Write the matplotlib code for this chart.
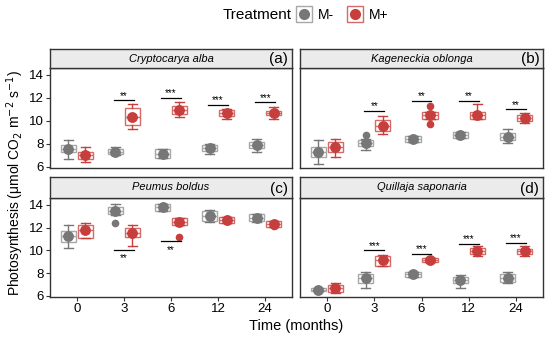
import matplotlib
matplotlib.use("Agg")
import matplotlib.pyplot as plt
from matplotlib.lines import Line2D
from matplotlib.legend_handler import HandlerTuple
import numpy as np

plt.rcParams['font.family'] = ['Liberation Sans', 'DejaVu Sans']

months = ["0", "3", "6", "12", "24"]
species = ["Cryptocarya alba", "Kageneckia oblonga", "Peumus boldus", "Quillaja saponaria"]
panel_tags = ["(a)", "(b)", "(c)", "(d)"]

# M- stats per panel: mean, q1, q3, low whisker, high whisker, outliers
a_minus_mean = [7.57, 7.33, 7.13, 7.63, 7.90]
a_minus_q1 = [7.33, 7.13, 6.73, 7.36, 7.63]
a_minus_q3 = [7.90, 7.57, 7.54, 7.90, 8.20]
a_minus_lo = [6.70, 7.00, 6.73, 7.16, 7.30]
a_minus_hi = [8.35, 7.70, 7.54, 8.03, 8.46]
a_minus_out = [[], [], [], [], []]
a_plus_mean = [7.00, 10.37, 10.96, 10.70, 10.70]
a_plus_q1 = [6.70, 9.60, 10.60, 10.40, 10.50]
a_plus_q3 = [7.33, 11.16, 11.30, 10.97, 10.90]
a_plus_lo = [6.43, 9.33, 10.30, 10.20, 10.20]
a_plus_hi = [7.77, 11.48, 11.65, 11.07, 11.25]
a_plus_out = [[], [], [], [], []]

b_minus_mean = [7.33, 8.06, 8.43, 8.78, 8.58]
b_minus_q1 = [6.85, 7.80, 8.20, 8.55, 8.30]
b_minus_q3 = [7.77, 8.30, 8.70, 9.00, 8.95]
b_minus_lo = [6.23, 7.48, 8.20, 8.55, 8.10]
b_minus_hi = [8.35, 8.45, 8.70, 9.00, 9.28]
b_minus_out = [[], [8.75], [], [], []]
b_plus_mean = [7.77, 9.57, 10.49, 10.55, 10.26]
b_plus_q1 = [7.28, 9.13, 10.17, 10.15, 10.00]
b_plus_q3 = [8.20, 10.10, 10.78, 10.80, 10.50]
b_plus_lo = [6.85, 8.84, 10.17, 10.15, 9.85]
b_plus_hi = [8.43, 10.46, 10.78, 11.48, 10.67]
b_plus_out = [[], [], [11.30, 9.74], [], []]

c_minus_mean = [11.27, 13.48, 13.83, 13.05, 12.85]
c_minus_q1 = [10.75, 13.20, 13.50, 12.60, 12.60]
c_minus_q3 = [11.67, 13.77, 14.05, 13.45, 13.20]
c_minus_lo = [10.23, 13.10, 13.50, 12.53, 12.47]
c_minus_hi = [12.25, 14.10, 14.05, 13.54, 13.20]
c_minus_out = [[], [12.42], [], [], []]
c_plus_mean = [11.76, 11.53, 12.47, 12.70, 12.33]
c_plus_q1 = [11.10, 11.20, 12.25, 12.40, 12.04]
c_plus_q3 = [12.25, 11.96, 12.82, 12.97, 12.60]
c_plus_lo = [11.10, 10.38, 12.25, 12.40, 12.04]
c_plus_hi = [12.40, 12.25, 12.82, 12.97, 12.60]
c_plus_out = [[], [], [11.20], [], [12.10]]

d_minus_mean = [6.53, 7.56, 7.91, 7.36, 7.60]
d_minus_q1 = [6.40, 7.16, 7.67, 7.10, 7.25]
d_minus_q3 = [6.67, 7.94, 8.06, 7.70, 7.94]
d_minus_lo = [6.40, 6.70, 7.67, 6.73, 7.16]
d_minus_hi = [6.67, 8.08, 8.06, 7.85, 8.10]
d_minus_out = [[], [], [], [], []]
d_plus_mean = [6.65, 9.11, 9.15, 9.95, 9.95]
d_plus_q1 = [6.35, 8.66, 8.94, 9.67, 9.70]
d_plus_q3 = [6.95, 9.46, 9.36, 10.20, 10.10]
d_plus_lo = [6.24, 8.60, 8.94, 9.54, 9.52]
d_plus_hi = [7.16, 9.60, 9.36, 10.40, 10.38]
d_plus_out = [[], [], [], [], []]

# significance: label and line height per time point
a_sig = ["", "**", "***", "***", "***"]
a_sig_y = [0, 11.8, 12.0, 11.4, 11.6]
b_sig = ["", "**", "**", "**", "**"]
b_sig_y = [0, 10.87, 11.77, 11.77, 11.0]
c_sig = ["", "**", "**", "", ""]
c_sig_y = [0, 10.03, 10.8, 0, 0]
d_sig = ["", "***", "***", "***", "***"]
d_sig_y = [0, 10.0, 9.7, 10.6, 10.66]

panels = [
    (a_minus_mean, a_minus_q1, a_minus_q3, a_minus_lo, a_minus_hi, a_minus_out,
     a_plus_mean, a_plus_q1, a_plus_q3, a_plus_lo, a_plus_hi, a_plus_out, a_sig, a_sig_y, False),
    (b_minus_mean, b_minus_q1, b_minus_q3, b_minus_lo, b_minus_hi, b_minus_out,
     b_plus_mean, b_plus_q1, b_plus_q3, b_plus_lo, b_plus_hi, b_plus_out, b_sig, b_sig_y, False),
    (c_minus_mean, c_minus_q1, c_minus_q3, c_minus_lo, c_minus_hi, c_minus_out,
     c_plus_mean, c_plus_q1, c_plus_q3, c_plus_lo, c_plus_hi, c_plus_out, c_sig, c_sig_y, True),
    (d_minus_mean, d_minus_q1, d_minus_q3, d_minus_lo, d_minus_hi, d_minus_out,
     d_plus_mean, d_plus_q1, d_plus_q3, d_plus_lo, d_plus_hi, d_plus_out, d_sig, d_sig_y, False),
]

gray_pt = "#777777"
gray_box = "#A8A8A8"
red_pt = "#C63F3D"
red_box = "#D66A68"

fig = plt.figure(figsize=(5.5, 3.44), dpi=100)

W, H = 550, 344
def fr(x0, y0, x1, y1):
    return [x0 / W, 1 - y1 / H, (x1 - x0) / W, (y1 - y0) / H]

plot_boxes = [fr(50, 68, 292, 168), fr(300, 68, 543, 168),
              fr(50, 198, 292, 297), fr(300, 198, 543, 297)]
strip_boxes = [fr(50, 49, 292, 68), fr(300, 49, 543, 68),
               fr(50, 177, 292, 198), fr(300, 177, 543, 198)]

pos = np.arange(1, len(months) + 1)
dodge = 0.18


def draw_group(ax, x, mean, q1, q3, lo, hi, out, pt_col, box_col):
    stats = []
    for i in range(len(x)):
        stats.append(dict(med=mean[i], q1=q1[i], q3=q3[i], whislo=lo[i],
                          whishi=hi[i], fliers=out[i]))
    ax.bxp(stats, positions=x, widths=0.32, showfliers=True, patch_artist=True,
           boxprops=dict(facecolor="white", edgecolor=box_col, linewidth=1.0),
           medianprops=dict(color=box_col, linewidth=1.0),
           whiskerprops=dict(color=pt_col, linewidth=1.0),
           capprops=dict(color=pt_col, linewidth=1.0),
           capwidths=0.2,
           flierprops=dict(marker="o", markerfacecolor=pt_col, markeredgecolor=pt_col,
                           markersize=4.5),
           manage_ticks=False)
    ax.plot(x, mean, "o", color=pt_col, markersize=6.8, zorder=5, linestyle="none")


for k, p in enumerate(panels):
    (mm, mq1, mq3, mlo, mhi, mout, pm, pq1, pq3, plo, phi, pout, sig, sig_y, below) = p
    ax = fig.add_axes(plot_boxes[k])
    draw_group(ax, pos - dodge, mm, mq1, mq3, mlo, mhi, mout, gray_pt, gray_box)
    draw_group(ax, pos + dodge, pm, pq1, pq3, plo, phi, pout, red_pt, red_box)
    for i, s in enumerate(sig):
        if not s:
            continue
        ax.plot([pos[i] - 0.21, pos[i] + 0.21], [sig_y[i], sig_y[i]], color="black", lw=0.9)
        if below:
            ax.text(pos[i], sig_y[i] - 0.3, s, ha="center", va="top", fontsize=7)
        else:
            ax.text(pos[i], sig_y[i] - 0.05, s, ha="center", va="bottom", fontsize=7)
    ax.set_xlim(0.43, 5.57)
    ax.set_ylim(5.9, 14.6)
    ax.set_yticks([6, 8, 10, 12, 14])
    ax.set_xticks(pos)
    if k >= 2:
        ax.set_xticklabels(months)
    else:
        ax.set_xticklabels([])
    if k in (1, 3):
        ax.set_yticklabels([])
    ax.tick_params(labelsize=9.5, colors="#333333", labelcolor="black", length=3, width=0.8, pad=1.5)
    if k in (1, 3):
        ax.tick_params(axis="y", length=0)
    if k < 2:
        ax.tick_params(axis="x", length=0)
    for sp in ax.spines.values():
        sp.set_color("#333333")
        sp.set_linewidth(1.0)

    sax = fig.add_axes(strip_boxes[k])
    sax.set_facecolor("#EBEBEB")
    sax.set_xticks([])
    sax.set_yticks([])
    for sp in sax.spines.values():
        sp.set_color("#333333")
        sp.set_linewidth(1.0)
    sax.text(0.5, 0.5, species[k], style="italic", ha="center", va="center",
             fontsize=8, transform=sax.transAxes)
    sax.text(0.985, 0.45, panel_tags[k], ha="right", va="center", fontsize=11,
             transform=sax.transAxes)

fig.text(15 / W, 1 - 183 / H, "Photosynthesis (μmol CO$_2$ m$^{-2}$ s$^{-1}$)",
         rotation=90, ha="center", va="center", fontsize=10)
fig.text(296 / W, 1 - 326 / H, "Time (months)", ha="center", va="center", fontsize=10.5)

# legend: title as text, keys beside it
fig.text(292 / W, 1 - 15 / H, "Treatment", ha="right", va="center", fontsize=11)
h_minus = (Line2D([], [], marker="s", markersize=12, markerfacecolor="white",
                  markeredgecolor=gray_box, linestyle="none"),
           Line2D([], [], marker="o", markersize=7, color=gray_pt, linestyle="none"))
h_plus = (Line2D([], [], marker="s", markersize=12, markerfacecolor="white",
                 markeredgecolor=red_box, linestyle="none"),
          Line2D([], [], marker="o", markersize=7, color=red_pt, linestyle="none"))
fig.legend([h_minus, h_plus], ["M-", "M+"], handler_map={tuple: HandlerTuple(ndivide=1)},
           loc="center left", bbox_to_anchor=(293 / W, 1 - 15 / H), ncol=2, frameon=False,
           fontsize=10, handlelength=1.2, columnspacing=0.9, handletextpad=0.4,
           borderaxespad=0, borderpad=0.2)

fig.savefig("out.png", dpi=100)
